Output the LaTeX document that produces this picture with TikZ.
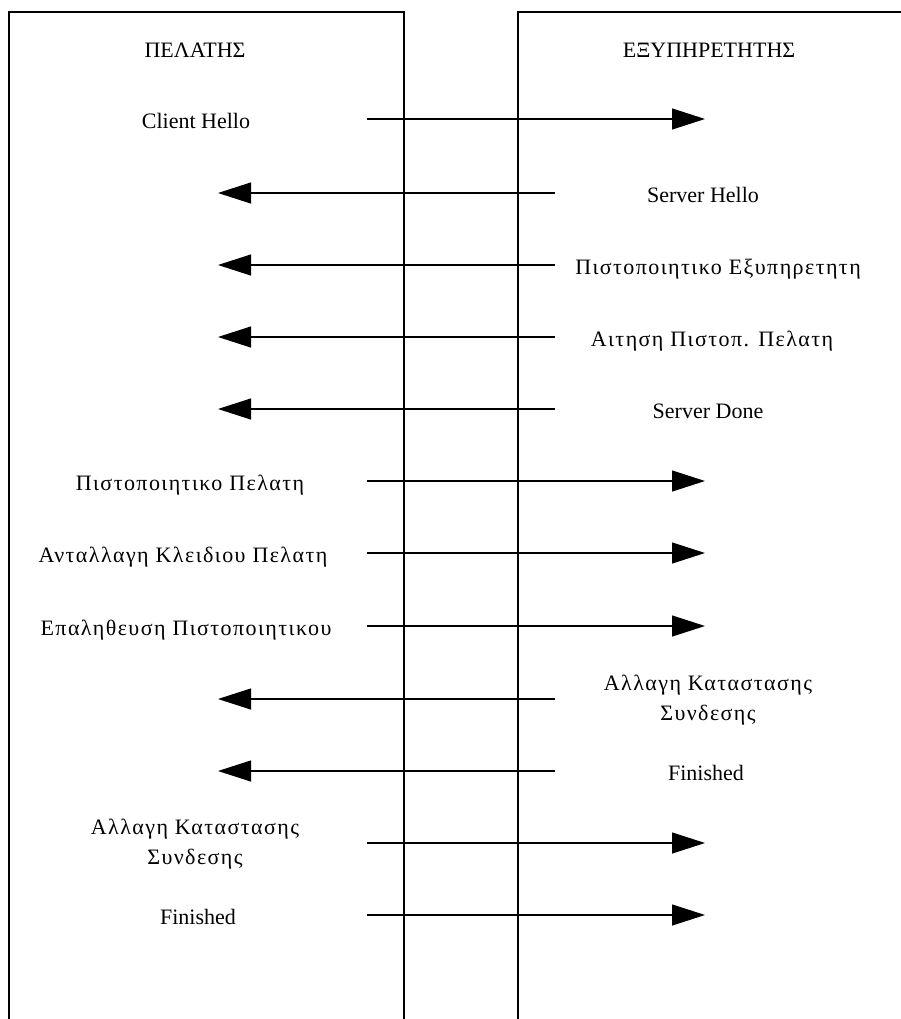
\documentclass[tikz,border=0pt]{standalone}
\usepackage{fontspec}
\setmainfont{Liberation Serif}
% loosely spaced face for the lower-case Greek labels
\newfontfamily\greekwide{Liberation Serif}[LetterSpace=6.5]
\usetikzlibrary{arrows.meta}
\begin{document}
\begin{tikzpicture}[x=1pt,y=-1pt,
  lbl/.style={font=\fontsize{22}{30}\selectfont, align=center, inner sep=0pt},
  glbl/.style={font=\fontsize{22}{30}\selectfont\greekwide, align=center, inner sep=0pt},
  msg/.style={line width=1.2pt, -{Triangle[length=33pt,width=21pt]}},
  frame/.style={line width=1.2pt}]
\useasboundingbox (0,0) rectangle (901,1019);
\clip (0,0) rectangle (901,1019);

% the two parties
\draw[frame] (9,1030) -- (9,12) -- (404,12) -- (404,1030);
\draw[frame] (518,1030) -- (518,12) -- (910,12);
\node[lbl] (client) at (195,50) {ΠΕΛΑΤΗΣ};
\node[lbl] (server) at (709,50) {ΕΞΥΠΗΡΕΤΗΤΗΣ};

% arrow end points: client side (tips at 218, tails at 367), server side (tips at 705, tails at 555)
\foreach \i/\y in {1/119,2/193,3/265,4/337,5/409,6/481,7/553,8/626,9/699,10/771,11/843,12/915}{
  \coordinate (cl\i) at (367,\y);
  \coordinate (ct\i) at (218,\y);
  \coordinate (sr\i) at (705,\y);
  \coordinate (st\i) at (555,\y);
}

% client to server
\node[lbl,anchor=base] (m1) at (196,129) {Client Hello};
\draw[msg] (cl1) -- (sr1);

% server to client
\node[lbl,anchor=base] (m2) at (703,202) {Server Hello};
\draw[msg] (st2) -- (ct2);
\node[glbl,anchor=base] (m3) at (718,274) {Πιστοποιητικο Εξυπηρετητη};
\draw[msg] (st3) -- (ct3);
\node[glbl,anchor=base] (m4) at (712,346) {Αιτηση Πιστοπ. Πελατη};
\draw[msg] (st4) -- (ct4);
\node[lbl,anchor=base] (m5) at (708,418) {Server Done};
\draw[msg] (st5) -- (ct5);

% client to server
\node[glbl,anchor=base] (m6) at (190,490) {Πιστοποιητικο Πελατη};
\draw[msg] (cl6) -- (sr6);
\node[glbl,anchor=base] (m7) at (183,562) {Ανταλλαγη Κλειδιου Πελατη};
\draw[msg] (cl7) -- (sr7);
\node[glbl,anchor=base] (m8) at (186,635) {Επαληθευση Πιστοποιητικου};
\draw[msg] (cl8) -- (sr8);

% server to client
\node[glbl] (m9) at (708,700) {Αλλαγη Καταστασης\\Συνδεσης};
\draw[msg] (st9) -- (ct9);
\node[lbl,anchor=base] (m10) at (706,780) {Finished};
\draw[msg] (st10) -- (ct10);

% client to server
\node[glbl] (m11) at (195,844) {Αλλαγη Καταστασης\\Συνδεσης};
\draw[msg] (cl11) -- (sr11);
\node[lbl,anchor=base] (m12) at (198,924) {Finished};
\draw[msg] (cl12) -- (sr12);
\end{tikzpicture}
\end{document}
